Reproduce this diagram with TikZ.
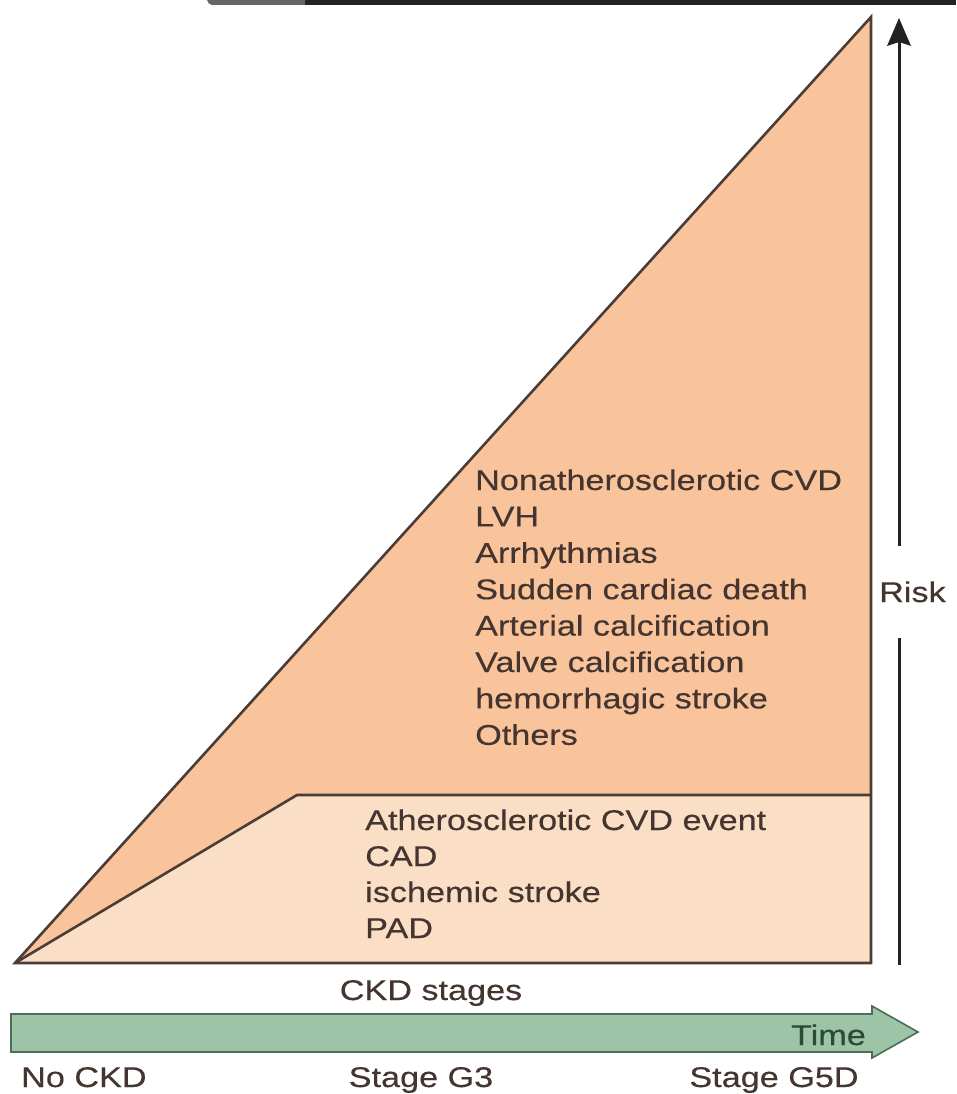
\documentclass[tikz,border=0pt]{standalone}
\usepackage{fontspec}
\newfontfamily\labfont{Liberation Sans}[FakeStretch=1.2,FakeBold=0.35]
\definecolor{upperfill}{HTML}{F9C49C}
\definecolor{lowerfill}{HTML}{FBDEC6}
\definecolor{edgecol}{HTML}{4A3C36}
\definecolor{txtcol}{HTML}{443530}
\definecolor{greenfill}{HTML}{9DC4A6}
\definecolor{greenedge}{HTML}{4A6E56}
\definecolor{greentxt}{HTML}{2C4A34}
\definecolor{barDark}{HTML}{222222}
\definecolor{barGray}{HTML}{666666}
\begin{document}
\begin{tikzpicture}[x=1pt,y=-1pt,
  lbl/.style={font=\labfont\fontsize{28.5}{34}\selectfont, text=txtcol, inner sep=0pt, anchor=base west},
  region/.style={draw=edgecol, line width=2.6pt, line join=miter},
]
\useasboundingbox (0,0) rectangle (956,1094);
% top bar
\fill[barDark] (300,0) rectangle (956,5);
\fill[barGray] (207,0) -- (305,0) -- (305,5) -- (212,5) to[out=180,in=-70] cycle;
% regions
\coordinate (A) at (15,963);
\coordinate (T) at (871,17);
\coordinate (BR) at (871,963);
\coordinate (K) at (297,795);
\coordinate (KR) at (871,795);
\fill[upperfill] (A) -- (T) -- (BR) -- cycle;
\fill[lowerfill] (A) -- (K) -- (KR) -- (BR) -- cycle;
\draw[region] (A) -- (T) -- (BR) -- cycle;
\draw[region] (A) -- (K) -- (KR);
% upper text
\foreach \t [count=\i] in {Nonatherosclerotic CVD, LVH, Arrhythmias, Sudden cardiac death, Arterial calcification, Valve calcification, hemorrhagic stroke, Others}
  \node[lbl] (u\i) at (475,{490+36.4*(\i-1)}) {\t};
% lower text
\foreach \t [count=\i] in {Atherosclerotic CVD event, CAD, ischemic stroke, PAD}
  \node[lbl] (l\i) at (365,{830+36*(\i-1)}) {\t};
% risk arrow
\node[lbl] (risk) at (879,602) {Risk};
\coordinate (rb) at (899,965);
\coordinate (rlo) at (899,638);
\coordinate (rhi) at (899,546);
\coordinate (rt) at (899,18);
\draw[line width=3pt, color=barDark] (rb) -- (rlo);
\draw[line width=3pt, color=barDark] (rhi) -- (899,42);
\fill[barDark] (rt) -- (911,46) -- (899,42) -- (887,46) -- cycle;
% CKD stages
\node[lbl, anchor=base] (ckd) at (431,1000) {CKD stages};
% green time arrow
\draw[fill=greenfill, draw=greenedge, line width=1.6pt, line join=miter]
  (11,1014) -- (872,1014) -- (872,1006) -- (918,1032) -- (872,1058) -- (872,1052) -- (11,1052) -- cycle;
\node[lbl, anchor=base east, text=greentxt] (time) at (866,1045) {Time};
% bottom labels
\node[lbl] (s0) at (21,1087) {No CKD};
\node[lbl, anchor=base] (s3) at (421,1087) {Stage G3};
\node[lbl, anchor=base] (s5) at (774,1087) {Stage G5D};
\end{tikzpicture}
\end{document}
